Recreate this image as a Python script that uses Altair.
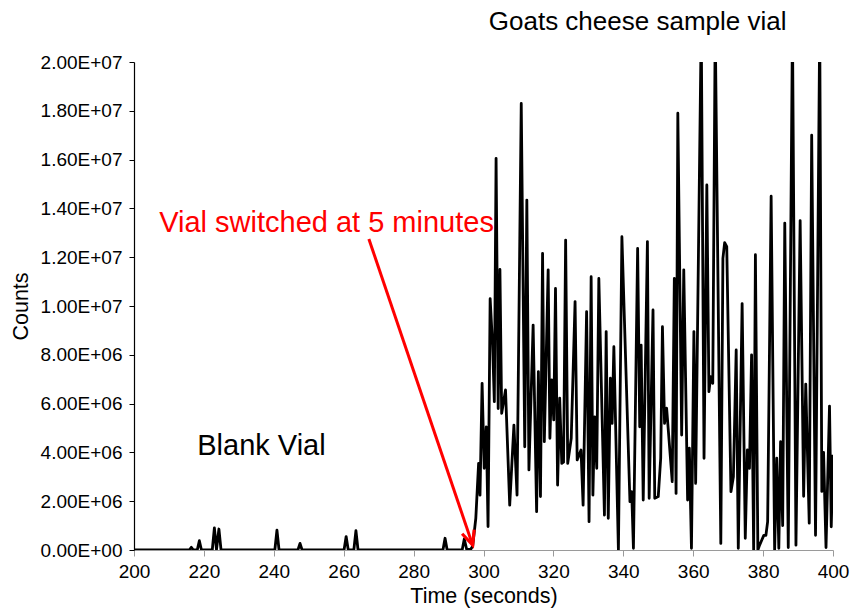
import altair as alt
import pandas as pd

# Time (seconds) and counts (millions)
time_s = [
    200.0, 215.8, 216.4, 217.0, 218.1, 218.7, 219.3, 222.4, 223.0, 223.6, 224.3, 224.9,
    240.3, 240.9, 241.5, 246.9, 247.5, 248.1, 260.1, 260.7, 261.3, 262.9, 263.5, 264.1,
    288.4, 289.0, 289.6, 293.9, 294.5, 295.2, 296.3, 296.9,
    297.8, 298.6, 299.0, 299.6, 300.2, 300.8, 301.3, 301.9, 302.6, 303.1, 303.6, 304.2,
    304.7, 305.2, 306.3, 307.5, 308.7, 309.6, 310.8, 311.8, 312.4, 313.0, 314.2, 315.2,
    315.7, 316.3, 316.9, 317.4, 318.5, 319.0, 319.5, 320.1, 320.6, 321.2, 321.8, 322.4,
    322.9, 323.5, 324.1, 325.1, 326.2, 326.8, 327.9, 328.5, 329.5, 330.2, 330.8, 331.3,
    331.8, 332.4, 333.0, 334.6, 335.1, 335.7, 336.3, 336.8, 337.3, 338.6, 339.6, 341.9,
    342.4, 342.9, 344.1, 344.7, 345.1, 345.7, 346.9, 347.4, 348.5, 349.0, 350.0, 350.7,
    351.2, 351.8, 352.4, 354.0, 354.6, 355.1, 355.6, 356.7, 357.3, 358.4, 358.9, 359.5,
    360.2, 360.7, 362.3, 363.1, 363.9, 364.5, 365.0, 365.6, 366.3, 367.9, 368.5, 369.0,
    369.6, 370.8, 371.5, 372.3, 372.9, 374.0, 374.9, 375.5, 376.1, 376.7, 377.3, 377.8,
    378.5, 379.0, 379.6, 380.2, 380.8, 381.3, 382.3, 383.3, 383.9, 384.5, 385.0, 385.6,
    386.2, 387.2, 388.4, 389.4, 390.6, 391.6, 392.2, 393.2, 393.9, 395.0, 396.2, 396.8,
    397.3, 398.0, 399.0, 399.5, 400.0,
]
counts_millions = [
    0.0, 0.0, 0.11, 0.0, 0.0, 0.38, 0.0, 0.0, 0.91, 0.02, 0.86, 0.0,
    0.0, 0.81, 0.0, 0.0, 0.27, 0.0, 0.0, 0.55, 0.0, 0.0, 0.79, 0.0,
    0.0, 0.48, 0.0, 0.0, 0.45, 0.02, 0.02, 0.15,
    1.3, 3.55, 2.25, 6.83, 3.35, 5.05, 0.96, 10.3, 8.4, 6.08, 16.05, 5.8,
    11.5, 5.6, 6.56, 1.84, 5.12, 2.25, 18.3, 4.23, 14.34, 3.28, 9.22, 1.57,
    7.31, 2.19, 12.16, 4.44, 11.48, 4.58, 6.97, 5.33, 10.72, 2.66, 6.22, 3.55,
    3.6, 12.7, 3.55, 4.58, 10.18, 3.69, 4.1, 1.84, 9.77, 1.16, 11.2, 2.25,
    5.46, 3.35, 11.13, 1.43, 8.95, 1.3, 7.04, 5.19, 8.33, 0.0, 12.84, 1.98,
    2.39, 0.07, 12.36, 5.05, 8.4, 2.05, 12.64, 2.12, 9.84, 2.12, 2.19, 3.76,
    9.15, 5.19, 5.81, 2.8, 11.13, 2.32, 17.9, 4.71, 11.48, 2.05, 4.17, 0.07,
    8.95, 2.73, 21.5, 3.76, 14.96, 6.49, 7.1, 6.83, 21.5, 0.27, 11.95, 12.6,
    12.43, 2.39, 3.0, 8.2, 0.07, 10.1, 0.48, 4.1, 3.35, 8.0, 0.0, 12.1,
    0.0, 0.2, 0.4, 0.6, 0.6, 1.16, 14.5, 0.0, 3.76, 0.07, 4.44, 1.0,
    13.4, 0.1, 21.5, 0.2, 13.5, 2.2, 6.8, 1.1, 17.0, 0.6, 21.5, 2.4,
    4.0, 0.1, 5.9, 0.95, 3.9,
]
counts = [v * 1e6 for v in counts_millions]

x_ticks = [200, 220, 240, 260, 280, 300, 320, 340, 360, 380, 400]
y_ticks = [0, 2e6, 4e6, 6e6, 8e6, 1e7, 1.2e7, 1.4e7, 1.6e7, 1.8e7, 2e7]

# Annotations (data coordinates)
text_labels = ["Goats cheese sample vial", "Vial switched at 5 minutes", "Blank Vial"]
text_t = [344.1, 207.2, 218.1]
text_v = [21.64e6, 13.40e6, 4.26e6]
text_align = ["center", "left", "left"]
text_color = ["black", "red", "black"]
text_size = [26, 29, 29]

arrow_t = [267.2, 296.9]
arrow_v = [12.75e6, 0.2e6]

FONT = "Liberation Sans"

df = pd.DataFrame({"time": time_s, "counts": counts})

xscale = alt.Scale(domain=[200, 400], nice=False, zero=False)
yscale = alt.Scale(domain=[0, 2e7], nice=False)

label_expr = (
    "datum.value == 0 ? '0.00E+00' : "
    "format(datum.value / pow(10, floor(log(datum.value) / LN10 + 1e-9)), '.2f') + 'E+' + "
    "(floor(log(datum.value) / LN10 + 1e-9) < 10 ? '0' : '') + floor(log(datum.value) / LN10 + 1e-9)"
)

line = alt.Chart(df).mark_line(color="black", strokeWidth=2.8, clip=True, strokeJoin="round").encode(
    x=alt.X("time:Q", scale=xscale, axis=alt.Axis(
        values=x_ticks, title="Time (seconds)", grid=False, labelFlush=False,
        domainColor="#9a9a9a", tickColor="#9a9a9a", tickSize=6, domainWidth=1.2,
        labelFont=FONT, labelFontSize=19, labelColor="black", labelPadding=6,
        titleFont=FONT, titleFontSize=21.5, titleFontWeight="normal", titleColor="black", titlePadding=4,
    )),
    y=alt.Y("counts:Q", scale=yscale, axis=alt.Axis(
        values=y_ticks, title="Counts", grid=False, labelExpr=label_expr, labelFlush=False,
        domainColor="black", tickColor="black", tickSize=5, domainWidth=1.2,
        labelFont=FONT, labelFontSize=19, labelColor="black", labelPadding=7,
        titleFont=FONT, titleFontSize=21.5, titleFontWeight="normal", titleColor="black", titlePadding=8,
    )),
)

tdf = pd.DataFrame({"t": text_t, "v": text_v, "label": text_labels})
texts = []
for i in range(len(text_labels)):
    texts.append(
        alt.Chart(tdf.iloc[[i]]).mark_text(
            font=FONT, fontSize=text_size[i], align=text_align[i], baseline="middle", color=text_color[i]
        ).encode(x=alt.X("t:Q", scale=xscale), y=alt.Y("v:Q", scale=yscale), text="label:N")
    )

adf = pd.DataFrame({"t": arrow_t, "v": arrow_v})
arrow_line = alt.Chart(adf).mark_line(color="red", strokeWidth=3).encode(
    x=alt.X("t:Q", scale=xscale), y=alt.Y("v:Q", scale=yscale)
)
head = alt.Chart(adf.iloc[[1]]).mark_point(
    shape="M-0.45,-1L0,0L0.45,-1", size=800, filled=False, stroke="red", strokeWidth=3.2,
    angle=341.3, opacity=1, strokeJoin="miter",
).encode(x=alt.X("t:Q", scale=xscale), y=alt.Y("v:Q", scale=yscale))

chart = alt.layer(line, arrow_line, head, *texts).properties(
    width=699, height=488,
    autosize=alt.AutoSizeParams(type="none"),
    padding={"left": 134, "top": 62, "right": 18, "bottom": 58},
    background="white",
).configure_view(stroke=None)

chart.save("out.html", embed_options={"renderer": "svg", "actions": False})
